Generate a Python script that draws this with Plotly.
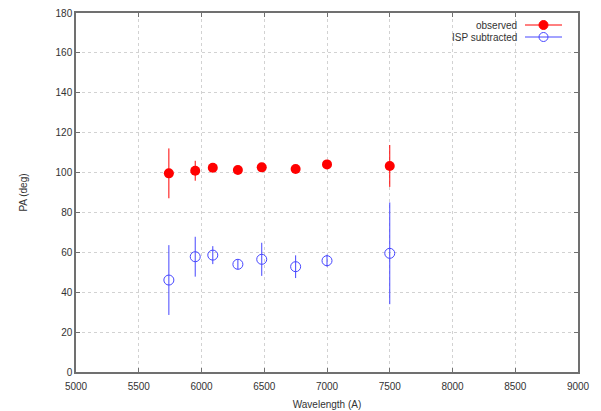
import plotly.graph_objects as go

wavelength = [5740, 5950, 6090, 6290, 6480, 6750, 7000, 7500]
pa_observed = [99.6, 100.9, 102.4, 101.3, 102.6, 101.8, 104.1, 103.3]
err_observed = [12.5, 5.0, 2.0, 1.5, 2.0, 1.5, 2.0, 10.5]
pa_isp = [46.1, 57.8, 58.6, 54.0, 56.5, 52.8, 55.8, 59.5]
err_isp = [17.5, 10.0, 4.5, 2.5, 8.3, 5.7, 3.0, 25.5]

x_ticks = [5000, 5500, 6000, 6500, 7000, 7500, 8000, 8500, 9000]
y_ticks = list(range(0, 181, 20))

RED = "#ff0000"
BLUE = "#4646ff"
FONT = "Liberation Sans, Arial, sans-serif"
TXT = "#333333"

fig = go.Figure()
fig.add_trace(go.Scatter(
    x=wavelength, y=pa_observed, mode="markers", name="observed",
    marker=dict(symbol="circle", size=10, color=RED),
    error_y=dict(type="data", array=err_observed, thickness=1, width=0, color=RED),
    showlegend=False,
))
fig.add_trace(go.Scatter(
    x=wavelength, y=pa_isp, mode="markers", name="ISP subtracted",
    marker=dict(symbol="circle-open", size=10, color=BLUE, line=dict(width=1, color=BLUE)),
    error_y=dict(type="data", array=err_isp, thickness=1, width=0, color=BLUE),
    showlegend=False,
))

axis_common = dict(
    showline=True, linecolor="#707070", linewidth=1.5, mirror="allticks",
    ticks="inside", ticklen=4, tickcolor="#707070",
    showgrid=True, gridcolor="#d2d2d2", griddash="3px,3px", gridwidth=1,
    zeroline=False, tickfont=dict(family=FONT, size=10, color=TXT),
    automargin=False,
)
fig.update_xaxes(range=[5000, 9000], tickvals=x_ticks, ticktext=[str(v) for v in x_ticks],
                 ticklabelstandoff=4,
                 title=dict(text="Wavelength (A)", font=dict(family=FONT, size=10, color=TXT), standoff=10),
                 **axis_common)
fig.update_yaxes(range=[0, 180], tickvals=y_ticks, ticktext=[str(v) for v in y_ticks],
                 title=dict(text="PA (deg)", font=dict(family=FONT, size=10, color=TXT), standoff=26),
                 **axis_common)

# gnuplot-style key (text left of sample) in the top-right corner
W, H = 601, 411
L, R, T, B = 76, 23, 13, 39
pw, ph = W - L - R, H - T - B
def px(xp):
    return (xp - L) / pw
def py(yp):
    return 1 - (yp - T) / ph

legend_items = [("observed", RED, 25, True), ("ISP subtracted", BLUE, 37, False)]
for label, col, ypix, filled in legend_items:
    fig.add_annotation(x=px(519), y=py(ypix), xref="paper", yref="paper", text=label,
                       showarrow=False, xanchor="right", yanchor="middle",
                       font=dict(family=FONT, size=10, color=TXT))
    fig.add_shape(type="line", xref="paper", yref="paper", x0=px(525), x1=px(562),
                  y0=py(ypix), y1=py(ypix), line=dict(color=col, width=1))
    r = 4.5
    fig.add_shape(type="circle", xref="paper", yref="paper",
                  x0=px(543.5 - r), x1=px(543.5 + r), y0=py(ypix + r), y1=py(ypix - r),
                  line=dict(color=col, width=1),
                  fillcolor=col if filled else "rgba(0,0,0,0)")

fig.update_layout(
    width=W, height=H,
    margin=dict(l=L, r=R, t=T, b=B),
    plot_bgcolor="white", paper_bgcolor="white",
    showlegend=False,
)
fig.write_html("out.html")
